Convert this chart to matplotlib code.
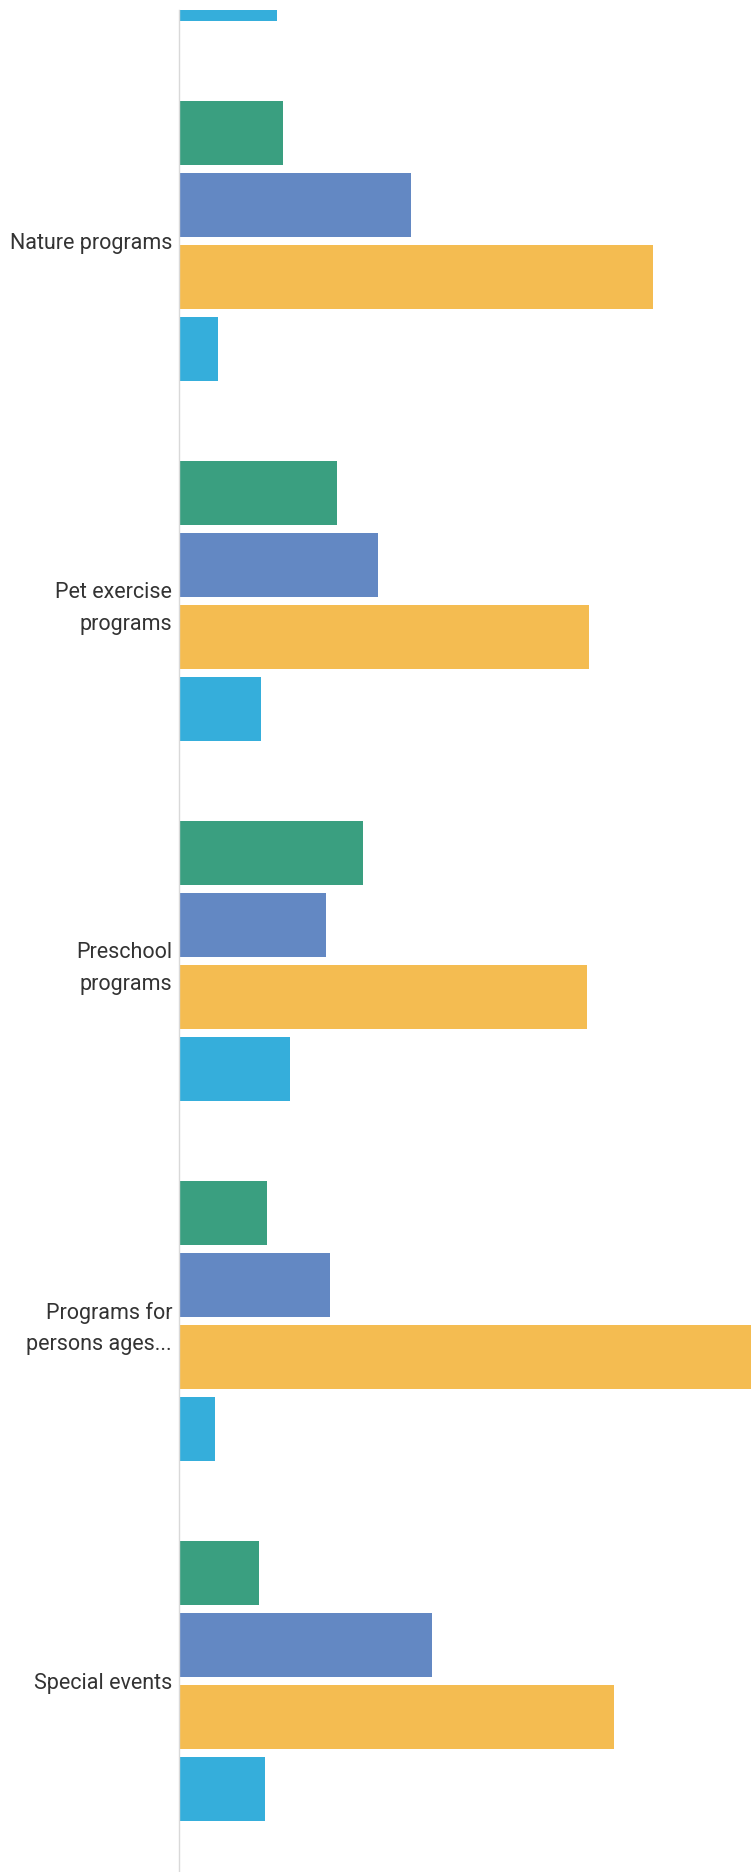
import numpy as np
import matplotlib.pyplot as plt

# ==================
# data (percent of respondents, approx.)
# first group is cut off at the top of the page, only its last bar shows
categories = ["", "Nature programs", "Pet exercise\nprograms", "Preschool\nprograms",
              "Programs for\npersons ages...", "Special events"]
green_vals = [np.nan, 17.3, 26.3, 30.7, 14.7, 13.3]
blue_vals = [np.nan, 38.7, 33.2, 24.5, 25.2, 42.2]
orange_vals = [np.nan, 79.0, 68.3, 68.0, 100.0, 72.5]
cyan_vals = [16.3, 6.5, 13.7, 18.5, 6.0, 14.3]
# ==================

colors = ["#3a9f80", "#6388c3", "#f4bc51", "#35aedb"]
series = [green_vals, blue_vals, orange_vals, cyan_vals]

W, H = 751, 1872
fig = plt.figure(figsize=(W / 100, H / 100), dpi=100)
ax = fig.add_axes([179 / W, 0, 1 - 179 / W, (H - 10) / H])

pos = np.arange(len(categories))
step = 0.2
for k, (vals, col) in enumerate(zip(series, colors)):
    off = (k - 1.5) * step
    for p, v in zip(pos, vals):
        if np.isnan(v):
            continue
        ax.barh(p + off, v, height=0.178, color=col, linewidth=0)

ax.set_ylim((H + 119) / 360, (10 + 119) / 360)
ax.set_xlim(0, (W - 179) / 6)

ax.set_yticks(pos[1:])
ax.set_yticklabels(categories[1:], fontsize=15.5, color="#333333",
                   family=["Roboto", "DejaVu Sans"], linespacing=1.65)
ax.tick_params(axis="y", length=0, pad=5)
ax.set_xticks([])

for s in ["top", "right", "bottom"]:
    ax.spines[s].set_visible(False)
ax.spines["left"].set_color("#d9d9d9")
ax.spines["left"].set_linewidth(1)

fig.savefig("out.png", dpi=100)
